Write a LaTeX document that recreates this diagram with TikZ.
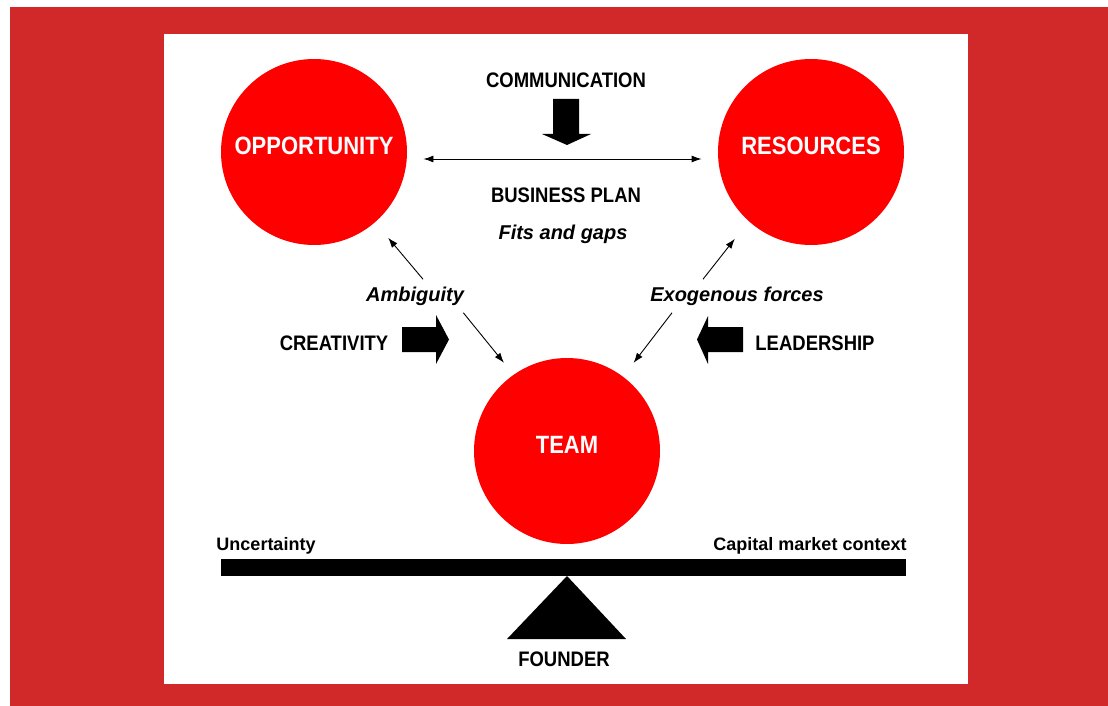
\documentclass[tikz,border=0pt]{standalone}
\usepackage{fontspec}
\setmainfont{Liberation Sans}
\newfontfamily\capsfont[FakeStretch=0.88]{Liberation Sans}
\usetikzlibrary{positioning,arrows.meta}

\definecolor{framered}{RGB}{209,41,42}
\definecolor{ballred}{RGB}{255,0,0}

\begin{document}
\begin{tikzpicture}[x=1pt,y=-1pt,-{Latex[length=10pt,width=7pt]},on grid,
    line width=0.9pt,
    ball/.style={circle,fill=ballred,minimum size=186pt,inner sep=0pt,
      text=white,text depth=12pt,font=\capsfont\bfseries\fontsize{25}{25}\selectfont},
    title/.style={font=\capsfont\bfseries\fontsize{21}{21}\selectfont},
    remark/.style={inner sep=7pt,font=\bfseries\itshape\fontsize{20}{20}\selectfont},
    small/.style={font=\bfseries\fontsize{18}{18}\selectfont}
    ]

    % frame
    \useasboundingbox (0,0) rectangle (1108,706);
    \fill[framered] (10,7) rectangle (1108,706);
    \fill[white] (164,34) rectangle (968,684);

    % the three circles
    \node[ball] (opp) at (314,152) {OPPORTUNITY};
    \node[ball] (res) [right=497pt of opp] {RESOURCES};
    \node[ball] (team) [below right=299pt and 253pt of opp] {TEAM};

    % labels
    \node[title] (comm) at (566,80) {COMMUNICATION};
    \node[title] (plan) [below=115pt of comm] {BUSINESS PLAN};
    \node[remark] (fits) at (563,234) {Fits and gaps};
    \node[remark] (amb) at (415,296) {Ambiguity};
    \node[remark] (exo) at (737,296) {Exogenous forces};
    \node[title] (crea) at (334,343) {CREATIVITY};
    \node[title] (lead) at (815,343) {LEADERSHIP};
    \node[small] (unc) at (266,546) {Uncertainty};
    \node[small] (capm) at (810,546) {Capital market context};
    \node[title] (found) at (564,659) {FOUNDER};

    % connectors
    \draw[{Latex[length=10pt,width=7pt]}-{Latex[length=10pt,width=7pt]},shorten <=16pt,shorten >=16pt]
      ([yshift=-7pt]opp.east) -- ([yshift=-7pt]res.west);
    \draw[shorten >=20pt] ([xshift=8pt]amb.north) -- (opp.-49);
    \draw[shorten >=15pt] ([xshift=-8pt]amb.south east) -- (team.125);
    \draw[shorten >=22pt] ([xshift=-34pt]exo.north) -- (res.-132);
    \draw[shorten >=17pt] ([xshift=-65pt]exo.south) -- (team.53);

    % block arrows
    \fill (553,99) -- (579,99) -- (579,134) -- (591,134) -- (567,145)
      -- (542,134) -- (553,134) -- cycle;
    \fill (402,327) -- (436,327) -- (436,315) -- (449,339.5) -- (436,364)
      -- (436,352) -- (402,352) -- cycle;
    \fill (743,327) -- (708,327) -- (708,316) -- (697,339.5) -- (708,364)
      -- (708,352) -- (743,352) -- cycle;

    % balance
    \fill (221,559) rectangle (906,576);
    \fill (567,576) -- (626,639) -- (507,639) -- cycle;
\end{tikzpicture}
\end{document}
